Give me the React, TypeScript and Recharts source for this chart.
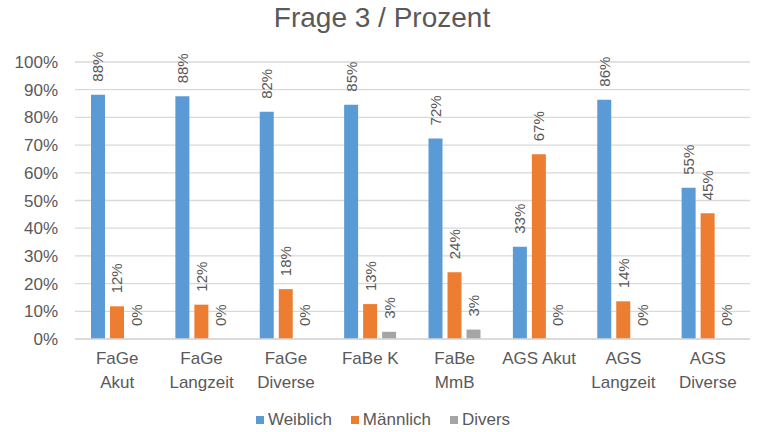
import { BarChart, Bar, XAxis, YAxis, CartesianGrid, Legend, Rectangle } from 'recharts'

const categoryLines = [
    ['FaGe', 'Akut'],
    ['FaGe', 'Langzeit'],
    ['FaGe', 'Diverse'],
    ['FaBe K'],
    ['FaBe', 'MmB'],
    ['AGS Akut'],
    ['AGS', 'Langzeit'],
    ['AGS', 'Diverse'],
]
const categories = categoryLines.map((l) => l.join(' '))

const weiblich = [88.2, 87.6, 82.0, 84.6, 72.4, 33.3, 86.4, 54.6]
const maennlich = [11.8, 12.4, 18.0, 12.6, 24.1, 66.7, 13.6, 45.4]
const divers = [0, 0, 0, 2.6, 3.4, 0, 0, 0]

const yTicks = [0, 10, 20, 30, 40, 50, 60, 70, 80, 90, 100]

const series = [
    { key: 'weiblich', name: 'Weiblich', color: '#5B9BD5' },
    { key: 'maennlich', name: 'Männlich', color: '#ED7D31' },
    { key: 'divers', name: 'Divers', color: '#A5A5A5' },
]

const data = categories.map((name, i) => ({
    name,
    weiblich: weiblich[i],
    maennlich: maennlich[i],
    divers: divers[i],
}))

const FONT = '"Liberation Sans", Arial, sans-serif'
const TEXT = '#595959'
const GRID = '#D9D9D9'

function CategoryTick({ x, y, payload }: any) {
    const lines = categoryLines[payload.index] || [payload.value]
    return (
        <text x={x} y={y} textAnchor="middle" fill={TEXT} fontSize={17} fontFamily={FONT}>
            {lines.map((line, i) => (
                <tspan key={i} x={x} dy={i === 0 ? 17 : 24}>{line}</tspan>
            ))}
        </text>
    )
}

// bar plus its rotated value label (drawn here so 0% values get a label too)
function makeShape(dataKey: string) {
    return (props: any) => {
        const { x, y, width, height, payload, fill } = props
        const value = payload ? payload[dataKey] : props.value
        const cx = x + width / 2
        const cy = Math.min(y, y + height) - 13
        return (
            <g>
                {height > 0 && <Rectangle x={x} y={y} width={width} height={height} fill={fill} />}
                <text
                    x={cx}
                    y={cy}
                    transform={`rotate(-90, ${cx}, ${cy})`}
                    textAnchor="start"
                    dominantBaseline="central"
                    fill={TEXT}
                    fontSize={15}
                    fontFamily={FONT}
                >
                    {Math.round(Number(value))}%
                </text>
            </g>
        )
    }
}

function LegendContent() {
    return (
        <div style={{ display: 'flex', justifyContent: 'center', gap: 19, fontSize: 17, color: TEXT, fontFamily: FONT, paddingLeft: 16 }}>
            {series.map((s) => (
                <span key={s.key} style={{ display: 'inline-flex', alignItems: 'center' }}>
                    <span style={{ width: 8, height: 8, background: s.color, marginRight: 4, display: 'inline-block' }} />
                    {s.name}
                </span>
            ))}
        </div>
    )
}

export default function App() {
    return (
        <div style={{ position: 'absolute', left: 0, top: 0, width: 760, height: 432, background: '#fff', fontFamily: FONT }}>
            <div style={{ position: 'absolute', top: 2, left: 0, width: 764, textAlign: 'center', fontSize: 28, color: TEXT }}>
                Frage 3 / Prozent
            </div>
            <BarChart
                width={760}
                height={432}
                data={data}
                margin={{ top: 62, right: 10, left: 0, bottom: 2 }}
                barSize={14}
                barGap={5}
            >
                <CartesianGrid vertical={false} stroke={GRID} strokeWidth={1.3} />
                <XAxis
                    dataKey="name"
                    height={71}
                    interval={0}
                    tickLine={false}
                    axisLine={{ stroke: GRID, strokeWidth: 1.3 }}
                    tick={<CategoryTick />}
                />
                <YAxis
                    width={75}
                    domain={[0, 100]}
                    ticks={yTicks}
                    interval={0}
                    tickLine={false}
                    axisLine={false}
                    tickSize={0}
                    tickMargin={17}
                    tick={{ fill: TEXT, fontSize: 17, fontFamily: FONT }}
                    tickFormatter={(v) => `${v}%`}
                />
                <Legend verticalAlign="bottom" content={<LegendContent />} />
                {series.map((s) => (
                    <Bar
                        key={s.key}
                        dataKey={s.key}
                        name={s.name}
                        fill={s.color}
                        isAnimationActive={false}
                        shape={makeShape(s.key)}
                    />
                ))}
            </BarChart>
        </div>
    )
}
